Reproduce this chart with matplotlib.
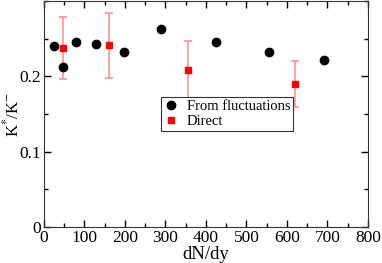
import numpy as np
import matplotlib
matplotlib.use('Agg')
import matplotlib.pyplot as plt
from matplotlib.ticker import MultipleLocator

plt.rcParams['font.family'] = 'Liberation Serif'
plt.rcParams['mathtext.fontset'] = 'stix'
plt.rcParams['font.size'] = 12.5

# from fluctuations
fluc_x = [25, 48, 79, 128, 198, 290, 424, 557, 692]
fluc_y = [0.240, 0.212, 0.2455, 0.243, 0.233, 0.263, 0.2455, 0.233, 0.222]

# direct
dir_x = [48, 160, 355, 620]
dir_y = [0.2375, 0.241, 0.209, 0.190]
dir_lo = [0.196, 0.1975, 0.171, 0.159]
dir_hi = [0.2785, 0.2835, 0.247, 0.221]

fig = plt.figure(figsize=(3.82, 2.63), dpi=100)
ax = fig.add_axes([0.115, 0.137, 0.848, 0.859])

yerr = [np.array(dir_y) - np.array(dir_lo), np.array(dir_hi) - np.array(dir_y)]
ax.errorbar(dir_x, dir_y, yerr=yerr, fmt='none', ecolor='#ff9a9a',
            elinewidth=1.3, capsize=3, capthick=1.3, zorder=2)
ax.plot(fluc_x, fluc_y, 'o', color='black', markersize=6, label='From fluctuations', zorder=3)
ax.plot(dir_x, dir_y, 's', color='red', markersize=5, label='Direct', zorder=3)

ax.set_xlim(0, 800)
ax.set_ylim(0, 0.3)
ax.xaxis.set_major_locator(MultipleLocator(100))
ax.xaxis.set_minor_locator(MultipleLocator(50))
ax.yaxis.set_major_locator(MultipleLocator(0.1))
ax.yaxis.set_minor_locator(MultipleLocator(0.05))
ax.set_yticks([0, 0.1, 0.2])
ax.set_yticklabels(['0', '0.1', '0.2'])
ax.tick_params(which='both', direction='in', top=True, right=True, width=1)
ax.tick_params(which='major', length=5, pad=2)
ax.tick_params(which='minor', length=3)
for s in ax.spines.values():
    s.set_color('#333333')

ax.set_xlabel('dN/dy', fontsize=13.5, labelpad=0)
ax.set_ylabel('K$^{*}$/K$^{-}$', fontsize=12)
ax.yaxis.set_label_coords(-0.068, 0.5)

leg = ax.legend(loc='upper left', bbox_to_anchor=(0.36, 0.575), fancybox=False,
                edgecolor='#333333', framealpha=1, borderpad=0.2, handlelength=1.0,
                handletextpad=0.6, labelspacing=0.1, borderaxespad=0, fontsize=10.5)
leg.get_frame().set_linewidth(0.8)

fig.savefig('out.png', dpi=100)
